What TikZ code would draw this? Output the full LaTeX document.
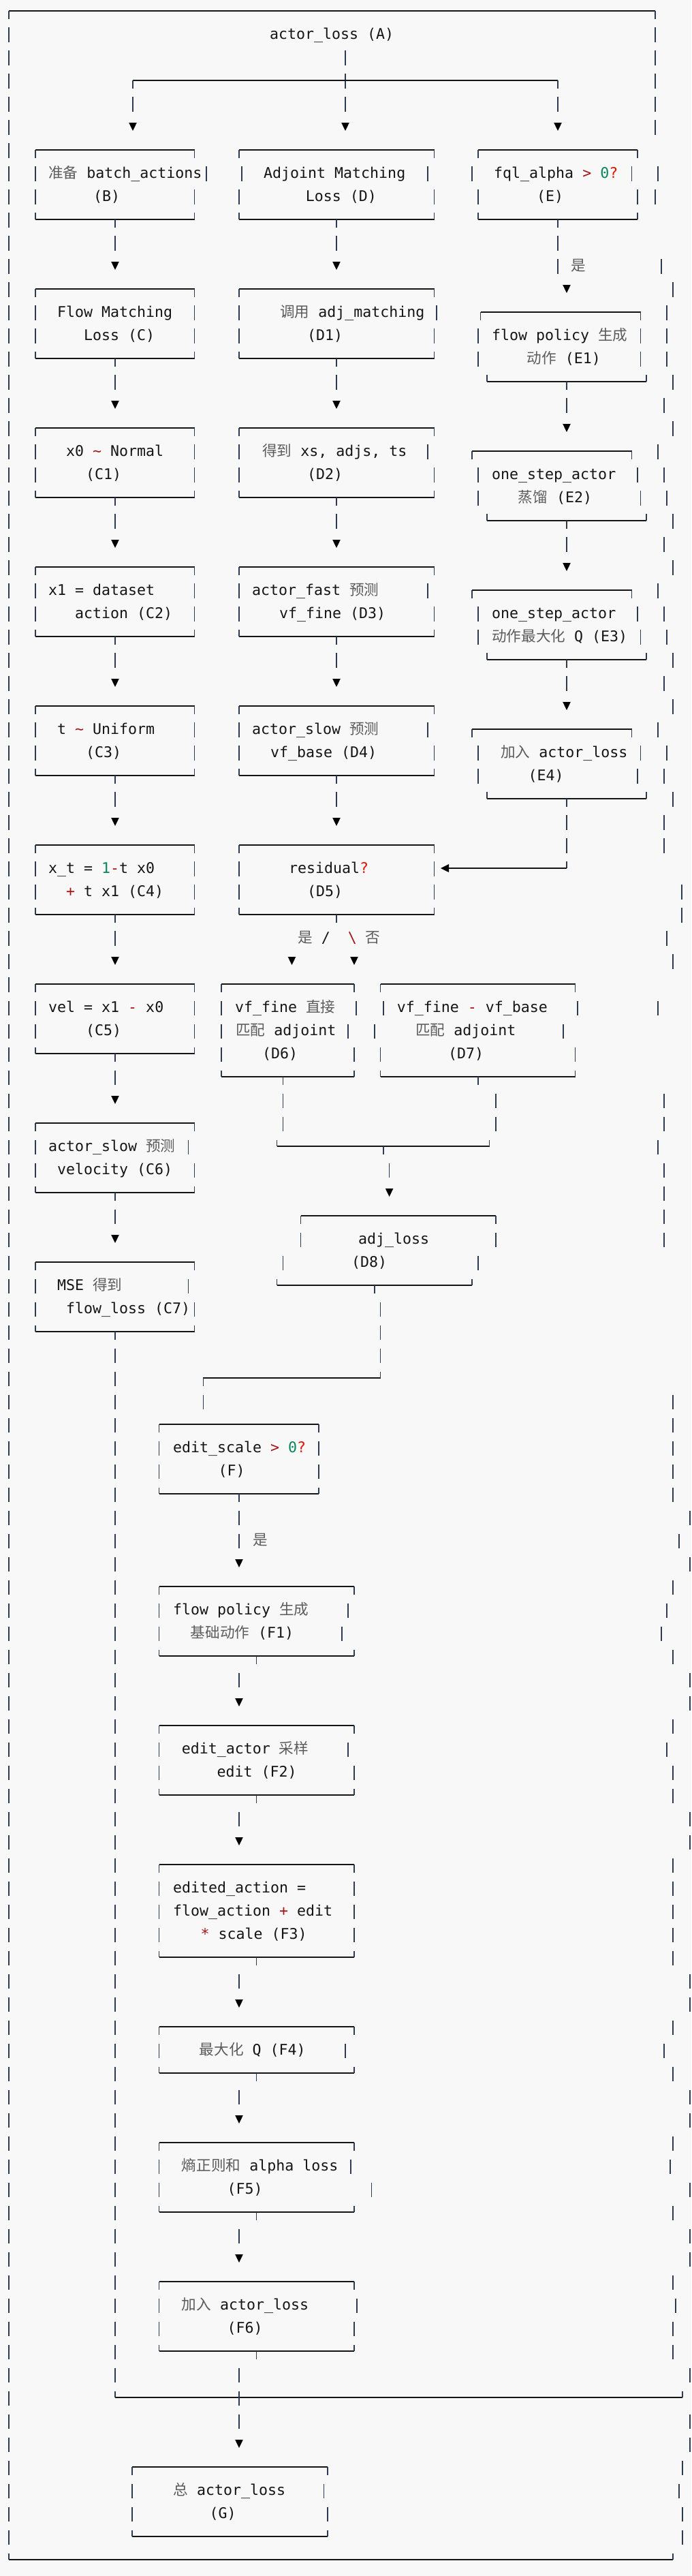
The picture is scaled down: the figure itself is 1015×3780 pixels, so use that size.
\documentclass[tikz,border=0pt]{standalone}
\usepackage{fontspec}
\setmainfont{DejaVu Sans Mono}
\newfontfamily\cjkf{Noto Sans CJK SC}
\definecolor{bg}{HTML}{F8F8F8}
\definecolor{zhc}{HTML}{5C5C5C}
\definecolor{opc}{HTML}{A31515}
\definecolor{nmc}{HTML}{098658}
\definecolor{qmc}{HTML}{E51400}
\definecolor{vlc}{HTML}{2D3B52}
\definecolor{hlc}{HTML}{151515}
\newcommand\zh[1]{{\cjkf\color{zhc}#1}}
\newcommand\op[1]{{\color{opc}#1}}
\newcommand\nm[1]{{\color{nmc}#1}}
\newcommand\qm{{\color{qmc}?}}
\newcommand\VS[2]{\draw[vl] ({#1},{#2-0.28}) -- ({#1},{#2+0.347});}
\newcommand\TD[2]{\draw[vl] ({#1},{#2}) -- ({#1},{#2+0.347});}
\newcommand\TU[2]{\draw[vl] ({#1},{#2-0.28}) -- ({#1},{#2});}
\newcommand\HL[3]{\draw[hl] ({#1},{#3}) -- ({#2},{#3});}
\newcommand\AR[2]{\fill[ar] ({#1-5.8},{#2-0.176}) -- ({#1+5.8},{#2-0.176}) -- ({#1},{#2+0.176}) -- cycle;}
\newcommand\BT[3]{\HL{#1}{#2}{#3}\TD{#1}{#3}\TD{#2}{#3}}
\newcommand\BB[3]{\HL{#1}{#2}{#3}\TU{#1}{#3}\TU{#2}{#3}}
\newcommand\SD[3]{\VS{#1}{#3}\VS{#2}{#3}}
\newcommand\T[4]{\node[txt] (#1) at ({#2},{#3+0.215}) {#4};}
\begin{document}
\begin{tikzpicture}
\fill[bg] (0,0) rectangle (1015pt,-3780pt);
\useasboundingbox (0,0) rectangle (1015pt,-3780pt);
\begin{scope}[x=1pt,y=-34pt,yshift=-16pt,
  vl/.style={draw=vlc,line width=1.3pt},
  hl/.style={draw=hlc,line width=2pt},
  ar/.style={fill=black},
  txt/.style={anchor=base west,inner sep=0pt,font=\fontsize{21.6pt}{34pt}\selectfont,text=hlc}]

% outer frame
\BT{13}{962}{0}
\foreach \r in {1,...,109} {\VS{13}{\r}}
\BB{13}{988}{110}
\foreach \r/\x in {1/962,2/962,3/962,4/962,5/962,7/966,8/962,11/971,12/988,13/979,14/979,15/979,16/988,17/975,18/988,19/966,20/975,21/979,22/988,23/975,24/988,25/966,26/975,27/979,28/988,29/975,30/988,31/966,32/979,33/975,34/988,35/975,36/975,38/1001,39/1001,40/979,41/988,43/966,47/975,48/975,49/966,50/975,51/975,52/975,53/975,60/988,61/988,62/988,63/988,64/988,65/1013,66/997,67/1013,68/988,69/979,70/971,71/988,72/1013,73/1013,74/988,75/979,76/988,77/988,78/1013,79/1013,80/988,81/988,82/988,83/988,84/988,85/1013,86/1013,87/988,88/975,89/988,90/1013,91/1013,92/988,93/984,94/1013,95/988,96/1013,97/1013,98/988,99/992,100/988,101/988,102/1013,104/1013,105/1013,106/1002,107/997,108/1002,109/1002} {\VS{\x}{\r}}

% A
\T{tA}{396}{1}{actor\_loss (A)}
\VS{507}{2}\VS{507}{3}\VS{507}{4}
\BT{195}{819}{3}
\VS{195}{4}\VS{819}{4}
\AR{195}{5}\AR{507}{5}\AR{819}{5}

% row boxes B, D, E
\BT{52}{285.5}{6}\SD{52}{303}{7}\SD{52}{285.5}{8}\BB{52}{285.5}{9}\TD{169}{9}
\T{tB1}{71}{7}{\zh{准备} batch\_actions}
\T{tB2}{137}{8}{(B)}
\BT{351}{637.6}{6}\SD{355}{628}{7}\SD{351}{637.6}{8}\BB{351}{637.6}{9}\TD{494}{9}
\T{tD1}{387}{7}{Adjoint Matching}
\T{tD2}{448.6}{8}{Loss (D)}
\BT{702}{936}{6}\SD{693}{927.6}{7}\SD{702}{936}{8}\BB{702}{936}{9}\TD{819}{9}
\T{tE1}{725}{7}{fql\_alpha \op{>} \nm{0}\qm}
\T{tE2}{788}{8}{(E)}

% connectors
\VS{169}{10}\VS{494}{10}\VS{819}{10}\VS{819}{11}
\AR{169}{11}\AR{494}{11}\AR{832}{12}
\T{tyes1}{838}{11}{\zh{是}}

% C, D1, E1
\BT{52}{285.5}{12}\SD{52}{285.5}{13}\SD{52}{285.5}{14}\BB{52}{285.5}{15}\TD{169}{15}
\T{tC1}{84}{13}{Flow Matching}
\T{tC2}{123}{14}{Loss (C)}
\BT{351}{637.6}{12}\SD{351}{641}{13}\SD{351}{637.6}{14}\BB{351}{637.6}{15}\TD{494}{15}
\T{tDa1}{411}{13}{\zh{调用} adj\_matching}
\T{tDa2}{451}{14}{(D1)}
\BT{705.6}{940.6}{13}\SD{702}{940.6}{14}\SD{702}{940.6}{15}\BB{715}{949}{16}\TD{832}{16}
\T{tEa1}{722}{14}{flow policy \zh{生成}}
\T{tEa2}{773.5}{15}{\zh{动作} (E1)}

\VS{169}{16}\VS{494}{16}\VS{832}{17}
\AR{169}{17}\AR{494}{17}\AR{832}{18}

% C1, D2, E2
\BT{52}{285.5}{18}\SD{52}{285.5}{19}\SD{52}{285.5}{20}\BB{52}{285.5}{21}\TD{169}{21}
\T{tCa1}{97}{19}{x0 \op{\textasciitilde} Normal}
\T{tCa2}{126}{20}{(C1)}
\BT{351}{637.6}{18}\SD{351}{628}{19}\SD{351}{637.6}{20}\BB{351}{637.6}{21}\TD{494}{21}
\T{tDb1}{385}{19}{\zh{得到} xs, adjs, ts}
\T{tDb2}{451}{20}{(D2)}
\BT{693}{927.6}{19}\SD{702}{936}{20}\SD{702}{940.6}{21}\BB{715}{949}{22}\TD{832}{22}
\T{tEb1}{722}{20}{one\_step\_actor}
\T{tEb2}{760.6}{21}{\zh{蒸馏} (E2)}

\VS{169}{22}\VS{494}{22}\VS{832}{23}
\AR{169}{23}\AR{494}{23}\AR{832}{24}

% C2, D3, E3
\BT{52}{285.5}{24}\SD{52}{285.5}{25}\SD{52}{285.5}{26}\BB{52}{285.5}{27}\TD{169}{27}
\T{tCb1}{71}{25}{x1 = dataset}
\T{tCb2}{110}{26}{action (C2)}
\BT{351}{637.6}{24}\SD{351}{628}{25}\SD{351}{637.6}{26}\BB{351}{637.6}{27}\TD{494}{27}
\T{tDc1}{370}{25}{actor\_fast \zh{预测}}
\T{tDc2}{410}{26}{vf\_fine (D3)}
\BT{693}{927.6}{25}\SD{702}{936}{26}\SD{702}{940.6}{27}\BB{715}{949}{28}\TD{832}{28}
\T{tEc1}{722}{26}{one\_step\_actor}
\T{tEc2}{722}{27}{\zh{动作最大化} Q (E3)}

\VS{169}{28}\VS{494}{28}\VS{832}{29}
\AR{169}{29}\AR{494}{29}\AR{832}{30}

% C3, D4, E4
\BT{52}{285.5}{30}\SD{52}{285.5}{31}\SD{52}{285.5}{32}\BB{52}{285.5}{33}\TD{169}{33}
\T{tCc1}{84}{31}{t \op{\textasciitilde} Uniform}
\T{tCc2}{126}{32}{(C3)}
\BT{351}{637.6}{30}\SD{351}{628}{31}\SD{351}{637.6}{32}\BB{351}{637.6}{33}\TD{494}{33}
\T{tDd1}{370}{31}{actor\_slow \zh{预测}}
\T{tDd2}{397}{32}{vf\_base (D4)}
\BT{693}{927.6}{31}\SD{702}{940.6}{32}\SD{702}{936}{33}\BB{715}{949}{34}\TD{832}{34}
\T{tEd1}{735}{32}{\zh{加入} actor\_loss}
\T{tEd2}{775.5}{33}{(E4)}

\VS{169}{34}\VS{494}{34}\VS{832}{35}\VS{832}{36}
\AR{169}{35}\AR{494}{35}
\TU{832}{37}
\draw[hl] (832,37) -- (658,37);
\fill[ar] (647,37) -- (659,37-0.176) -- (659,37+0.176) -- cycle;

% C4, D5
\BT{52}{285.5}{36}\SD{52}{285.5}{37}\SD{52}{285.5}{38}\BB{52}{285.5}{39}\TD{169}{39}
\T{tCd1}{71}{37}{x\_t = \nm{1}\op{-}t x0}
\T{tCd2}{97}{38}{\op{+} t x1 (C4)}
\BT{351}{637.6}{36}\SD{351}{637.6}{37}\SD{351}{637.6}{38}\BB{351}{637.6}{39}\TD{494}{39}
\T{tDe1}{424}{37}{residual\qm}
\T{tDe2}{451}{38}{(D5)}

\VS{169}{40}
\T{tyn}{437}{40}{\zh{是} /~~\op{\textbackslash} \zh{否}}
\AR{169}{41}\AR{428.5}{41}\AR{520}{41}

% C5, D6, D7
\BT{52}{285.5}{42}\SD{52}{285.5}{43}\SD{52}{285.5}{44}\BB{52}{285.5}{45}\TD{169}{45}
\T{tCe1}{71}{43}{vel = x1 \op{-} x0}
\T{tCe2}{126}{44}{(C5)}
\BT{325}{520}{42}\SD{325}{523}{43}\SD{325}{511}{44}\SD{325}{520}{45}\BB{325}{520}{46}\TD{415.6}{46}
\T{tDf1}{345}{43}{vf\_fine \zh{直接}}
\T{tDf2}{346}{44}{\zh{匹配} adjoint}
\T{tDf3}{385}{45}{(D6)}
\BT{558.6}{844.7}{42}\SD{563}{848}{43}\SD{550}{827}{44}\SD{558.6}{844.7}{45}\BB{558.6}{844.7}{46}\TD{702}{46}
\T{tDg1}{582.6}{43}{vf\_fine \op{-} vf\_base}
\T{tDg2}{610}{44}{\zh{匹配} adjoint}
\T{tDg3}{658}{45}{(D7)}

\VS{169}{46}\AR{169}{47}
\VS{415.6}{47}\VS{415.6}{48}\VS{728}{47}\VS{728}{48}
\BB{406.5}{718.5}{49}\TD{563}{49}
\VS{571.6}{50}\AR{571.6}{51}

% C6
\BT{52}{285.5}{48}\SD{52}{276.4}{49}\SD{52}{285.5}{50}\BB{52}{285.5}{51}\TD{169}{51}
\T{tCf1}{71}{49}{actor\_slow \zh{预测}}
\T{tCf2}{84}{50}{velocity (C6)}
\VS{169}{52}\AR{169}{53}

% D8
\BT{441.5}{728}{52}\SD{441.5}{728}{53}\SD{415.6}{702}{54}\BB{406.5}{693}{55}\TD{550}{55}
\T{tDh1}{526}{53}{adj\_loss}
\T{tDh2}{516}{54}{(D8)}

% C7
\BT{52}{285.5}{54}\SD{52}{276.4}{55}\SD{52}{285.5}{56}\BB{52}{285.5}{57}\TD{169}{57}
\T{tCg1}{84}{55}{MSE \zh{得到}}
\T{tCg2}{97}{56}{flow\_loss (C7)}

\VS{558.6}{56}\VS{558.6}{57}\VS{558.6}{58}
\HL{298.4}{558.6}{59}\TD{298.4}{59}\TU{558.6}{59}
\VS{298.4}{60}
\foreach \r in {58,...,102} {\VS{169}{\r}}

% F
\BT{233.7}{468}{61}\SD{233.7}{468}{62}\SD{233.7}{468}{63}\BB{233.7}{468}{64}\TD{351}{64}
\T{tF1}{253.8}{62}{edit\_scale \op{>} \nm{0}\qm}
\T{tF2}{320.4}{63}{(F)}
\VS{351}{65}\VS{351}{66}\AR{351}{67}
\T{tyes2}{371}{66}{\zh{是}}

% F1
\BT{233.7}{520}{68}\SD{233.7}{511}{69}\SD{233.7}{502}{70}\BB{233.7}{520}{71}\TD{376.7}{71}
\T{tFa1}{253.8}{69}{flow policy \zh{生成}}
\T{tFa2}{279.6}{70}{\zh{基础动作} (F1)}
\VS{351}{72}\AR{351}{73}

% F2
\BT{233.7}{520}{74}\SD{233.7}{511}{75}\SD{233.7}{520}{76}\BB{233.7}{520}{77}\TD{376.7}{77}
\T{tFb1}{266.7}{75}{edit\_actor \zh{采样}}
\T{tFb2}{318.5}{76}{edit (F2)}
\VS{351}{78}\AR{351}{79}

% F3
\BT{233.7}{520}{80}\SD{233.7}{520}{81}\SD{233.7}{520}{82}\SD{233.7}{520}{83}\BB{233.7}{520}{84}\TD{376.7}{84}
\T{tFc1}{253.8}{81}{edited\_action =}
\T{tFc2}{253.8}{82}{flow\_action \op{+} edit}
\T{tFc3}{294.5}{83}{\op{*} scale (F3)}
\VS{351}{85}\AR{351}{86}

% F4
\BT{233.7}{520}{87}\SD{233.7}{507}{88}\BB{233.7}{520}{89}\TD{376.7}{89}
\T{tFd1}{292.6}{88}{\zh{最大化} Q (F4)}
\VS{351}{90}\AR{351}{91}

% F5
\BT{233.7}{520}{92}\SD{233.7}{515}{93}\SD{233.7}{545.7}{94}\BB{233.7}{520}{95}\TD{376.7}{95}
\T{tFe1}{266.7}{93}{\zh{熵正则和} alpha loss}
\T{tFe2}{333.4}{94}{(F5)}
\VS{351}{96}\AR{351}{97}

% F6
\BT{233.7}{520}{98}\SD{233.7}{524}{99}\SD{233.7}{520}{100}\BB{233.7}{520}{101}\TD{376.7}{101}
\T{tFf1}{266.7}{99}{\zh{加入} actor\_loss}
\T{tFf2}{333.4}{100}{(F6)}
\VS{351}{102}

% merge line
\BB{169}{1002}{103}
\VS{351}{103}\VS{351}{104}\AR{351}{105}

% G
\BT{194}{481}{106}\SD{194}{475.8}{107}\SD{194}{481}{108}\BB{194}{481}{109}
\T{tG1}{254.4}{107}{\zh{总} actor\_loss}
\T{tG2}{307.5}{108}{(G)}
\end{scope}
\end{tikzpicture}
\end{document}
